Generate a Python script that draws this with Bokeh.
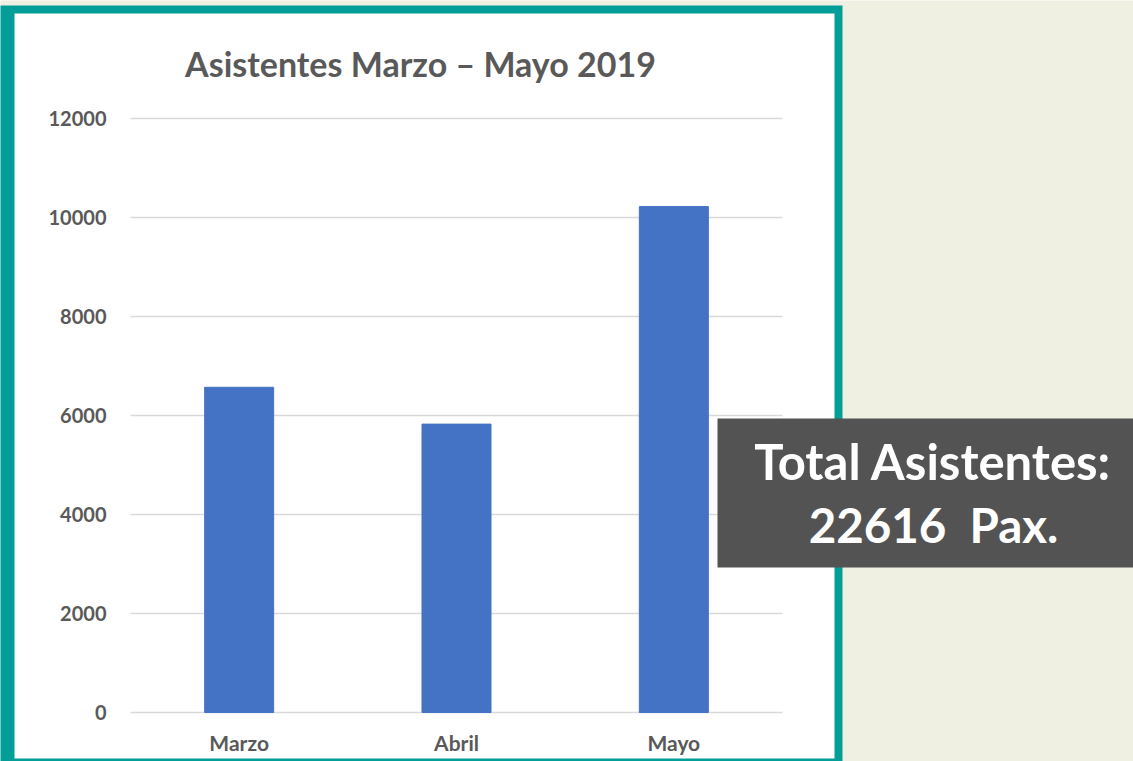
from bokeh.plotting import figure
from bokeh.models import Range1d, FixedTicker, BoxAnnotation, Label, LinearAxis
from bokeh.embed import file_html
from bokeh.resources import INLINE

# ---- data ----
months = ["Marzo", "Abril", "Mayo"]
attendees = [6570, 5826, 10220]
y_ticks = [0, 2000, 4000, 6000, 8000, 10000, 12000]
title_text = "Asistentes Marzo \u2013 Mayo 2019"
total_line1 = "Total Asistentes:"
total_line2 = "22616 \u00a0Pax."

# ---- style / layout ----
FONT = "Lato"
GREY = "#595959"
BG = "#EFEFE2"
TEAL = "#039E97"
BAR = "#4472C4"
GRID = "#D9D9D9"

W, H = 1133, 761
PLOT_L, PLOT_R, PLOT_T, PLOT_B = 130, 782, 118, 712   # pixel box of the plotting area

n = len(months)
ymax = y_ticks[-1]
px_x = (PLOT_R - PLOT_L) / n
px_y = (PLOT_B - PLOT_T) / ymax
# categories sit at integer positions 0..n-1, each spanning +-0.5
x_range = Range1d(-0.5 - PLOT_L / px_x, -0.5 + (W - PLOT_L) / px_x)
y_range = Range1d(-(H - PLOT_B) / px_y, ymax + PLOT_T / px_y)

p = figure(width=W, height=H, x_range=x_range, y_range=y_range,
           x_axis_type=None, y_axis_type=None,
           output_backend="svg", toolbar_location=None, min_border=0,
           border_fill_color=BG, background_fill_color=BG, outline_line_color=None)
p.xgrid.visible = False
p.ygrid.visible = False

def canvas_box(l, r, t, b, color, level):
    return BoxAnnotation(left=l, right=r, top=t, bottom=b,
                         left_units="canvas", right_units="canvas",
                         top_units="canvas", bottom_units="canvas",
                         fill_color=color, fill_alpha=1, line_color=None, level=level)

# white panel with teal border
p.add_layout(canvas_box(-10, 842, 5, H + 10, TEAL, "image"))
p.add_layout(canvas_box(14, 834, 13, 758, "white", "image"))

# grid lines across the category span
p.segment(x0=[-0.5] * len(y_ticks), x1=[n - 0.5] * len(y_ticks), y0=y_ticks, y1=y_ticks,
          line_color=GRID, line_width=1.5)

xpos = list(range(n))
p.vbar(x=xpos, top=attendees, width=0.3175, fill_color=BAR, line_color=BAR)

yax = LinearAxis(ticker=FixedTicker(ticks=y_ticks), fixed_location=-0.5)
yax.axis_line_color = None
yax.major_tick_line_color = None
yax.minor_tick_line_color = None
yax.major_label_standoff = 18
yax.major_label_text_font_size = "20px"
p.add_layout(yax, "left")

xax = LinearAxis(ticker=FixedTicker(ticks=xpos), fixed_location=0,
                 major_label_overrides={i: m for i, m in zip(xpos, months)})
xax.axis_line_color = None
xax.major_tick_line_color = None
xax.minor_tick_line_color = None
xax.major_label_standoff = 11
xax.major_label_text_font_size = "21px"
p.add_layout(xax, "below")
for ax in (xax, yax):
    ax.major_label_text_font = FONT
    ax.major_label_text_font_style = "bold"
    ax.major_label_text_color = GREY

p.add_layout(Label(x=420, y=63, x_units="canvas", y_units="canvas", text=title_text,
                   text_font=FONT, text_font_style="bold", text_font_size="34px", text_color=GREY,
                   text_align="center", text_baseline="middle"))

# total box
p.add_layout(canvas_box(717, W + 10, 418, 567, "#535353", "overlay"))
p.add_layout(Label(x=932.5, y=460, x_units="canvas", y_units="canvas", text=total_line1,
                   text_font=FONT, text_font_style="bold", text_font_size="49px", text_color="white",
                   text_align="center", text_baseline="middle", level="overlay"))
p.add_layout(Label(x=933, y=524, x_units="canvas", y_units="canvas", text=total_line2,
                   text_font=FONT, text_font_style="bold", text_font_size="47.5px", text_color="white",
                   text_align="center", text_baseline="middle", level="overlay"))

open("out.html", "w").write(file_html(p, INLINE))
